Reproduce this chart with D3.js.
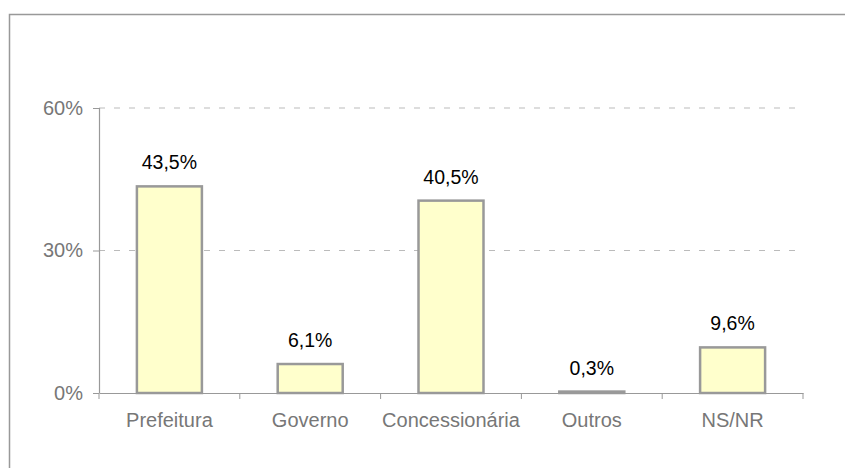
<!DOCTYPE html>
<html>
<head>
<meta charset="utf-8">
<script src="https://cdn.jsdelivr.net/npm/d3@7"></script>
<style>
  body { margin: 0; background: #fff; }
  svg { font-family: "Liberation Sans", Arial, sans-serif; }
</style>
</head>
<body>
<script>
var categories = ["Prefeitura", "Governo", "Concessionária", "Outros", "NS/NR"];
var values = [43.5, 6.1, 40.5, 0.3, 9.6];
var valueLabels = ["43,5%", "6,1%", "40,5%", "0,3%", "9,6%"];
var yTicks = [0, 30, 60];

var width = 845;
var height = 468;

var svg = d3.select("body")
            .append("svg")
            .attr("width", width)
            .attr("height", height);

// outer frame (cut off at right and bottom like the original)
svg.append("rect")
   .attr("x", 9.5)
   .attr("y", 14.5)
   .attr("width", 860)
   .attr("height", 470)
   .attr("fill", "none")
   .attr("stroke", "#999")
   .attr("stroke-width", 1.5);

var xScale = d3.scaleBand()
               .domain(categories)
               .range([99, 803])
               .paddingInner(0)
               .paddingOuter(0);

var yScale = d3.scaleLinear()
               .domain([0, 60])
               .range([393, 108]);

// dashed gridlines
svg.selectAll("line.grid")
   .data(yTicks.filter(function(d){ return d > 0; }))
   .enter()
   .append("line")
   .attr("class", "grid")
   .attr("x1", 99)
   .attr("x2", 800)
   .attr("y1", function(d){ return yScale(d); })
   .attr("y2", function(d){ return yScale(d); })
   .attr("stroke", "#bbb")
   .attr("stroke-width", 1)
   .attr("stroke-dasharray", "6,9");

var yAxis = d3.axisLeft(yScale)
              .tickValues(yTicks)
              .tickSize(6)
              .tickPadding(10)
              .tickFormat(function(d){ return d + "%"; });

var gy = svg.append("g")
   .attr("transform", "translate(99,0)")
   .call(yAxis);

var xAxis = d3.axisBottom(xScale)
              .tickSize(0)
              .tickPadding(20);

var gx = svg.append("g")
   .attr("transform", "translate(0,393)")
   .call(xAxis);

// x tick marks at band boundaries
svg.selectAll("line.xtick")
   .data(d3.range(categories.length + 1))
   .enter()
   .append("line")
   .attr("class", "xtick")
   .attr("x1", function(i){ return 99 + i * xScale.bandwidth(); })
   .attr("x2", function(i){ return 99 + i * xScale.bandwidth(); })
   .attr("y1", 393)
   .attr("y2", 399)
   .attr("stroke", "#999");

[gx, gy].forEach(function(g){
  g.select(".domain").attr("stroke", "#999").attr("stroke-width", 1.2);
  g.selectAll(".tick line").attr("stroke", "#999");
  g.selectAll(".tick text")
   .attr("fill", "#777")
   .attr("font-size", 20)
   .attr("font-family", "Liberation Sans, Arial, sans-serif");
});
gy.select(".domain").attr("d", "M0.5,393V108");

var barW = 65;

svg.selectAll("rect.bar")
   .data(values)
   .enter()
   .append("rect")
   .attr("class", "bar")
   .attr("x", function(d, i){ return xScale(categories[i]) + (xScale.bandwidth() - barW) / 2; })
   .attr("y", function(d){ return yScale(d); })
   .attr("width", barW)
   .attr("height", function(d){ return yScale(0) - yScale(d); })
   .attr("fill", "#ffffcc")
   .attr("stroke", "#999")
   .attr("stroke-width", 2.5);

svg.selectAll("text.val")
   .data(values)
   .enter()
   .append("text")
   .attr("class", "val")
   .text(function(d, i){ return valueLabels[i]; })
   .attr("x", function(d, i){ return xScale(categories[i]) + xScale.bandwidth() / 2; })
   .attr("y", function(d){ return yScale(d) - 17; })
   .attr("text-anchor", "middle")
   .attr("font-size", 19.5)
   .attr("fill", "#000");
</script>
</body>
</html>
